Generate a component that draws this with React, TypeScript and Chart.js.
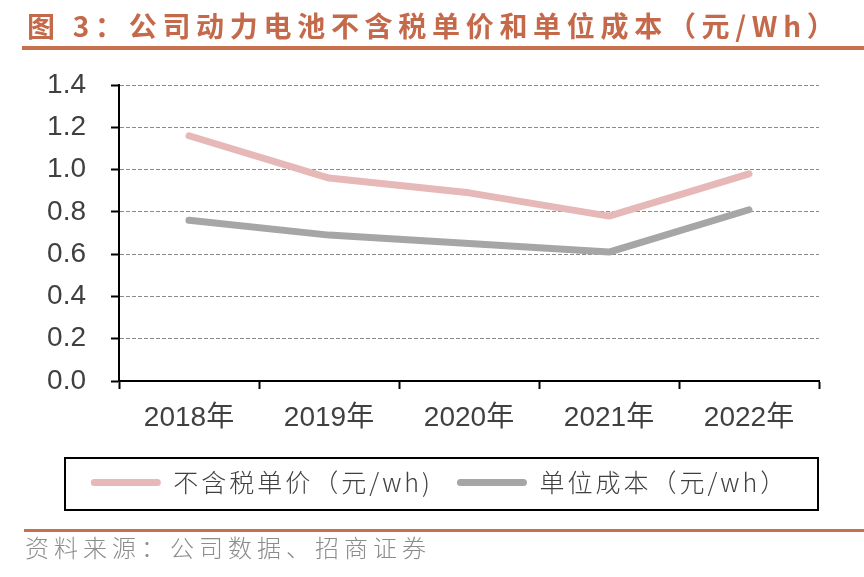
import React, { useEffect, useRef } from "react";
import { Chart, registerables } from "chart.js";

Chart.register(...registerables);

const categories = ["2018年", "2019年", "2020年", "2021年", "2022年"];
const priceSeries = [1.16, 0.96, 0.89, 0.78, 0.98];
const costSeries = [0.76, 0.69, 0.65, 0.61, 0.81];
const seriesNames = ["不含税单价（元/wh)", "单位成本（元/wh）"];
const seriesColors = ["#E6B8B7", "#A6A6A6"];
const yMin = 0;
const yMax = 1.4;
const yStep = 0.2;

const titleText = "图 3：公司动力电池不含税单价和单位成本（元/Wh）";
const sourceText = "资料来源：公司数据、招商证券";

const FONT_LATIN = "'Liberation Sans', Arial, 'Noto Sans CJK SC', sans-serif";
const FONT_CJK = "'Noto Sans CJK SC', 'Liberation Sans', sans-serif";

const legendPatch = {
  id: "legendPatch",
  beforeLayout(chart: any) {
    const lg: any = chart.legend;
    if (lg && !lg.__patched) {
      lg.__patched = true;
      const of = lg.fit.bind(lg);
      const od = lg.draw.bind(lg);
      lg.fit = () => {
        const c: any = chart.ctx;
        const prev = c.letterSpacing;
        c.letterSpacing = "3px";
        of();
        c.letterSpacing = prev || "0px";
      };
      lg.draw = () => {
        const c: any = chart.ctx;
        c.save();
        c.letterSpacing = "3px";
        od();
        c.restore();
      };
    }
  },
  afterLayout(chart: any) {
    const lg: any = chart.legend;
    if (!lg) return;
    lg.left = 60;
    lg.width = lg.right - lg.left;
  },
  afterDraw(chart: any) {
    const lg: any = chart.legend;
    if (!lg) return;
    const c = chart.ctx;
    c.save();
    c.strokeStyle = "#000000";
    c.lineWidth = 2;
    c.strokeRect(lg.left + 5, lg.top + 12, lg.width - 6, 52);
    c.restore();
  },
};

export default function App() {
  const ref = useRef<HTMLCanvasElement | null>(null);

  useEffect(() => {
    if (!ref.current) return;
    const chart = new Chart(ref.current, {
      type: "line",
      data: {
        labels: categories,
        datasets: [
          {
            label: seriesNames[0],
            data: priceSeries,
            borderColor: seriesColors[0],
            backgroundColor: seriesColors[0],
            borderWidth: 7,
            pointRadius: 0,
            borderCapStyle: "round",
            borderJoinStyle: "round",
            tension: 0,
          },
          {
            label: seriesNames[1],
            data: costSeries,
            borderColor: seriesColors[1],
            backgroundColor: seriesColors[1],
            borderWidth: 7,
            pointRadius: 0,
            borderCapStyle: "round",
            borderJoinStyle: "round",
            tension: 0,
          },
        ],
      },
      options: {
        animation: false,
        responsive: false,
        devicePixelRatio: 1,
        layout: { padding: { left: 40, right: 45, top: 85, bottom: 72 } },
        plugins: {
          title: { display: false },
          tooltip: { enabled: false },
          legend: {
            display: true,
            position: "bottom",
            labels: {
              boxWidth: 70,
              boxHeight: 7,
              padding: 24,
              color: "#404040",
              font: { family: FONT_CJK, size: 25, weight: 300 as any },
              generateLabels(chart: any) {
                const items = Chart.defaults.plugins.legend.labels.generateLabels(chart);
                return items.map((it: any) => ({
                  ...it,
                  lineWidth: 0,
                  borderRadius: 3.5,
                }));
              },
              useBorderRadius: true,
              borderRadius: 3.5,
            } as any,
          },
        },
        scales: {
          x: {
            type: "category",
            offset: true,
            afterFit(scale: any) {
              scale.height = 65;
            },
            grid: {
              display: true,
              offset: true,
              drawOnChartArea: false,
              drawTicks: true,
              tickLength: 8,
              tickColor: "#000000",
              tickWidth: 2,
            },
            border: { display: true, color: "#000000", width: 2 },
            ticks: {
              color: "#404040",
              padding: 12,
              font: { family: FONT_LATIN, size: 28 },
              maxRotation: 0,
              autoSkip: false,
            },
          },
          y: {
            type: "linear",
            min: yMin,
            max: yMax,
            afterFit(scale: any) {
              scale.width = 79;
            },
            grid: {
              display: true,
              drawTicks: true,
              tickLength: 8,
              tickColor: "#000000",
              tickWidth: 2,
              color: (ctx: any) =>
                ctx.tick && ctx.tick.value === 0 ? "rgba(0,0,0,0)" : "#8A8A8A",
              lineWidth: 1,
            },
            border: { display: true, color: "#000000", width: 2, dash: [4, 2] },
            ticks: {
              stepSize: yStep,
              autoSkip: false,
              color: "#404040",
              padding: 25,
              font: { family: FONT_LATIN, size: 28 },
              callback: (v: any) => Number(v).toFixed(1),
            },
          },
        },
      },
      plugins: [legendPatch],
    });
    return () => chart.destroy();
  }, []);

  return (
    <div
      style={{
        position: "absolute",
        left: 0,
        top: 0,
        width: 864,
        height: 577,
        background: "#ffffff",
        overflow: "hidden",
      }}
    >
      <canvas
        ref={ref}
        width={864}
        height={577}
        style={{ position: "absolute", left: 0, top: 0, width: 864, height: 577 }}
      />
      <div
        style={{
          position: "absolute",
          left: 27,
          top: 11,
          fontFamily: FONT_CJK,
          fontWeight: 700,
          fontSize: 28,
          lineHeight: "28px",
          letterSpacing: "5.7px",
          color: "#C46A4B",
          whiteSpace: "nowrap",
        }}
      >
        {titleText}
      </div>
      <div
        style={{
          position: "absolute",
          left: 22,
          top: 46,
          width: 842,
          height: 4,
          background: "#C8714F",
        }}
      />
      <div
        style={{
          position: "absolute",
          left: 24,
          top: 529,
          width: 840,
          height: 3,
          background: "#C8714F",
        }}
      />
      <div
        style={{
          position: "absolute",
          left: 25,
          top: 535,
          fontFamily: FONT_CJK,
          fontWeight: 300,
          fontSize: 24,
          lineHeight: "24px",
          letterSpacing: "5px",
          color: "#8C8C8C",
          whiteSpace: "nowrap",
        }}
      >
        {sourceText}
      </div>
    </div>
  );
}
